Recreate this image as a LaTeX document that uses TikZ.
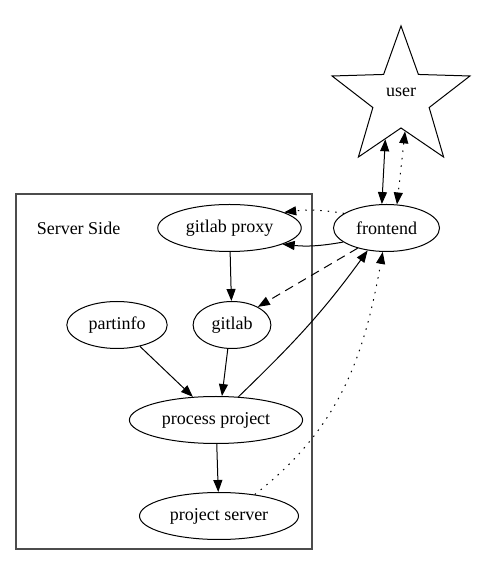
\documentclass[tikz,border=0pt]{standalone}
\usepackage{fontspec}
\setmainfont{Liberation Serif}
\usetikzlibrary{shapes.geometric,arrows.meta}

\begin{document}
\begin{tikzpicture}[x=1pt,y=1pt,line width=1pt,
  >={Triangle[length=12pt,width=9pt]},
  every node/.style={font=\fontsize{18}{21}\selectfont},
  box/.style={ellipse,draw,inner xsep=7pt,inner ysep=2pt,minimum height=47pt},
  dotline/.style={dash pattern=on 1.5pt off 6pt},
  dashline/.style={dash pattern=on 9pt off 6pt}]
\useasboundingbox (0,0) rectangle (496,567);
\draw[line width=1.2pt,black!70] (16,18) rectangle (312,373);
\node (side) at (78.5,339) {Server Side};
\node[star,star points=5,star point ratio=2.45,minimum size=145pt,inner sep=0pt,draw,text depth=12.8pt] (user) at (401,468.6) {user};
\node[box] (frontend) at (386.5,339) {frontend};
\node[box] (gproxy) at (229.5,339) {gitlab proxy};
\node[box] (partinfo) at (117,242) {partinfo};
\node[box] (gitlab) at (232,242) {gitlab};
\node[box] (process) at (216,147) {process project};
\node[box] (pserver) at (219,51) {project server};
% user <-> frontend
\draw[<->] (user.-111) -- (frontend.101);
\draw[<->,dotline] (user.-83) -- (frontend.66);
% frontend -> server side
\draw[->,dotline] (frontend.161) to[bend right=8] (gproxy.16);
\draw[->] (frontend.-162) to[bend left=8] (gproxy.-17);
\draw[->,dashline] (frontend.-145) -- (gitlab.35);
\draw[->] (gproxy) -- (gitlab);
\draw[->] (partinfo.-43) -- (process.135);
\draw[->] (gitlab.-100) -- (process.76);
\draw[->] (process.46) to[out=44,in=-126] (frontend.-130);
\draw[->] (process) -- (pserver);
\draw[->,dotline] (pserver.31) to[out=38,in=-100] (frontend.-99);
\end{tikzpicture}
\end{document}
